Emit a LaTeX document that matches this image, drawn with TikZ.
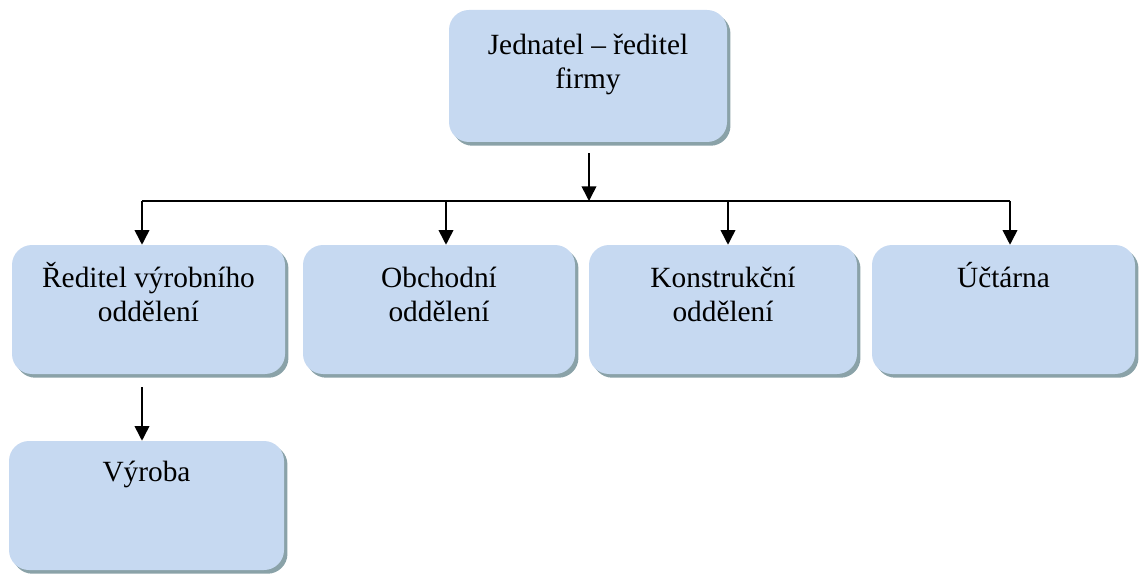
\documentclass[tikz,border=0pt]{standalone}
\usepackage{fontspec}
\setmainfont{Liberation Serif}
\usetikzlibrary{arrows.meta,positioning,calc}
\definecolor{boxfill}{RGB}{198,217,241}
\definecolor{boxshade}{RGB}{138,162,168}
\newcommand\firstline{\rule{0pt}{20pt}}
\tikzset{
  unitbox/.style={rounded corners=15pt, fill=boxfill, draw=none, inner sep=0pt,
    preaction={fill=boxshade, transform canvas={xshift=2.6pt, yshift=-2.8pt}}},
  lbl/.style={font=\fontsize{22}{25.5}\selectfont, align=center, inner sep=0pt, anchor=north},
  link/.style={line width=1.2pt, draw=black},
  arr/.style={link, -{Triangle[width=11pt,length=11pt]}}
}
\begin{document}
\begin{tikzpicture}[x=0.75pt, y=-0.75pt]
\useasboundingbox (0,0) rectangle (1139,574);

% boxes
\node[unitbox, minimum width=208.5pt, minimum height=99pt] (top) at (588,76) {};
\node[unitbox, minimum width=204.75pt, minimum height=96.75pt] (b1) at (148.5,309.5) {};
\node[unitbox, minimum width=204pt, minimum height=96.75pt] (b2) at (439,309.5) {};
\node[unitbox, minimum width=201pt, minimum height=96.75pt] (b3) at (723,309.5) {};
\node[unitbox, minimum width=197.25pt, minimum height=96.75pt] (b4) at (1003.5,309.5) {};
\node[unitbox, minimum width=206.25pt, minimum height=96.75pt] (vy) at (146.5,505.5) {};

% labels
\node[lbl, below=13.7pt of top.north] (ttop) {\firstline Jednatel – ředitel\\firmy};
\node[lbl, below=12.2pt of b1.north] (tb1) {\firstline Ředitel výrobního\\oddělení};
\node[lbl, below=12.2pt of b2.north] (tb2) {\firstline Obchodní\\oddělení};
\node[lbl, below=12.2pt of b3.north] (tb3) {\firstline Konstrukční\\oddělení};
\node[lbl, below=11.5pt of b4.north] (tb4) {\firstline Účtárna};
\node[lbl, below=10.7pt of vy.north] (tvy) {\firstline Výroba};

% bus line and drops
\coordinate (j0) at (589,201);
\coordinate (j1) at (142,201);
\coordinate (j2) at (446,201);
\coordinate (j3) at (728,201);
\coordinate (j4) at (1010,201);

\draw[arr, shorten <=8.25pt] (top.south -| j0) -- (j0);
\draw[link] (j1) -- (j4);
\draw[arr] (j1) -- (j1 |- b1.north);
\draw[arr] (j2) -- (j2 |- b2.north);
\draw[arr] (j3) -- (j3 |- b3.north);
\draw[arr] (j4) -- (j4 |- b4.north);
\draw[arr, shorten <=9.75pt] (b1.south -| j1) -- (j1 |- vy.north);
\end{tikzpicture}
\end{document}
